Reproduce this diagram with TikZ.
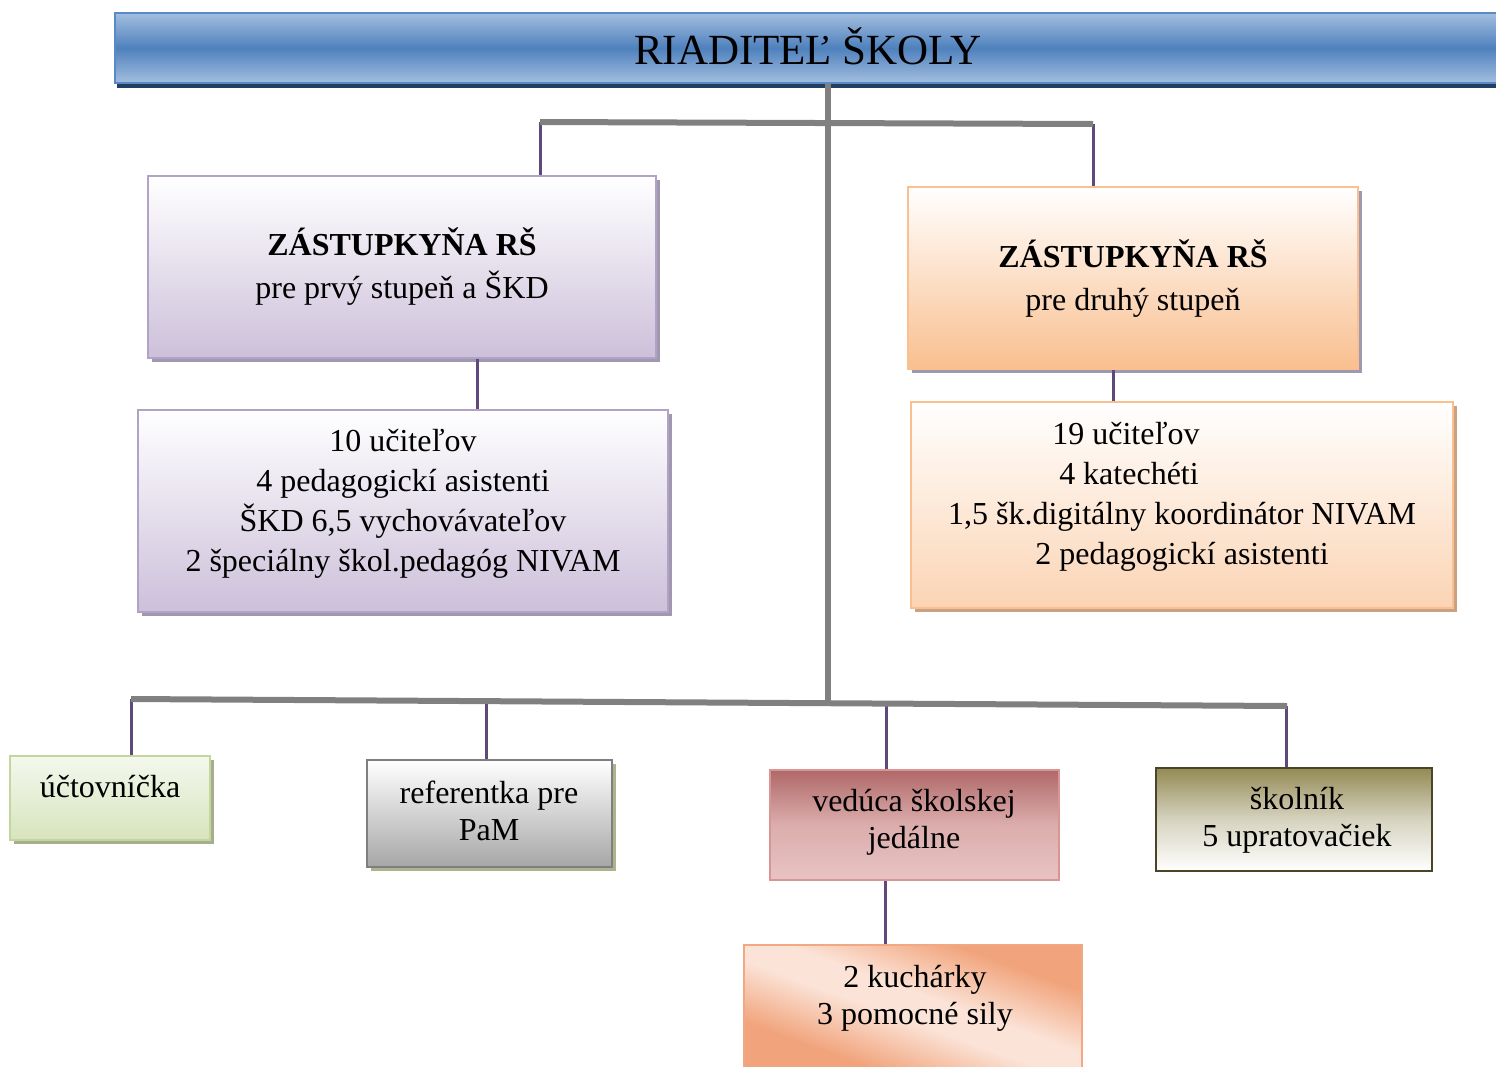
\documentclass[tikz,border=0pt]{standalone}
\usepackage{fontspec}
\setmainfont{Liberation Serif}
\usetikzlibrary{shadows,calc}
\definecolor{tbord}{HTML}{5A8AC6}
\definecolor{tlight}{HTML}{A3BEDF}
\definecolor{tmid}{HTML}{4F81BD}
\definecolor{tshad}{HTML}{243F60}
\definecolor{lavb}{HTML}{B3A2C7}
\definecolor{lavf}{HTML}{CCC0DA}
\definecolor{lavs}{HTML}{A098AE}
\definecolor{orb}{HTML}{FAC090}
\definecolor{orf}{HTML}{F9BF8F}
\definecolor{orf2}{HTML}{FBD4B4}
\definecolor{ors}{HTML}{C9A183}
\definecolor{grb}{HTML}{C3D69B}
\definecolor{grt}{HTML}{F4F8EE}
\definecolor{grf}{HTML}{D7E4BD}
\definecolor{grs}{HTML}{A6AE8E}
\definecolor{gyb}{HTML}{7F7F7F}
\definecolor{gyf}{HTML}{A6A6A6}
\definecolor{gys}{HTML}{AAB58F}
\definecolor{rob}{HTML}{D99594}
\definecolor{rot}{HTML}{B06868}
\definecolor{rom}{HTML}{DCADAD}
\definecolor{rof}{HTML}{E8C3C3}
\definecolor{olb}{HTML}{4A4528}
\definecolor{olt}{HTML}{948A54}
\definecolor{olm}{HTML}{D6D3C0}
\definecolor{pkb}{HTML}{F2A883}
\definecolor{pk}{HTML}{F1A47C}
\definecolor{pkl}{HTML}{FBE3D7}
\definecolor{conn}{HTML}{808080}
\definecolor{purp}{HTML}{5F497A}
\pgfdeclarehorizontalshading{kuch}{100bp}{color(0bp)=(pk); color(30bp)=(pk); color(46bp)=(pkl); color(54bp)=(pkl); color(70bp)=(pk); color(100bp)=(pk)}
\begin{document}
\begin{tikzpicture}[x=1pt,y=-1pt,
  box/.style={inner sep=0pt, line width=1.5pt},
  txt/.style={align=center, inner sep=0pt, font=\fontsize{32}{40}\selectfont},
  stxt/.style={align=center, inner sep=0pt, font=\fontsize{32}{37}\selectfont},
  gline/.style={draw=conn, line width=6pt},
  pline/.style={draw=purp, line width=3pt},
  shad/.style={drop shadow={shadow xshift=4pt, shadow yshift=-4pt, fill=#1, opacity=1}}
]
\useasboundingbox (0,0) rectangle (1496,1066);

% ---------- boxes ----------
\node[box, draw=tbord, line width=2.5pt, top color=tlight, bottom color=tlight, middle color=tmid,
      minimum width=1383pt, minimum height=70pt,
      drop shadow={shadow xshift=2pt, shadow yshift=-5pt, fill=tshad, opacity=1}] (title) at (806.5,48) {};
\node[inner sep=0pt, anchor=base, font=\fontsize{43}{50}\selectfont] (titlet) at (808,64) {RIADITEĽ ŠKOLY};

\node[box, draw=lavb, top color=white, bottom color=lavf, minimum width=508pt, minimum height=182pt, shad=lavs] (z1) at (402,267) {};
\node[txt] (z1t) at (402,267) {\textbf{ZÁSTUPKYŇA RŠ}\\[3pt]pre prvý stupeň a ŠKD};

\node[box, draw=lavb, top color=white, bottom color=lavf, minimum width=530pt, minimum height=202pt, shad=lavs] (s1) at (403,511) {};
\node[txt] (s1t) at (403,504) {10 učiteľov\\4 pedagogickí asistenti\\ŠKD 6,5 vychovávateľov\\2 špeciálny škol.pedagóg NIVAM};

\node[box, draw=orb, top color=white, bottom color=orf, minimum width=450pt, minimum height=182pt, shad=lavs] (z2) at (1133,278) {};
\node[txt] (z2t) at (1133,279) {\textbf{ZÁSTUPKYŇA RŠ}\\[3pt]pre druhý stupeň};

\node[box, draw=orb, top color=white, bottom color=orf2, minimum width=542pt, minimum height=206pt, shad=ors] (s2) at (1182,505) {};
\node[txt] (s2t) at (1182,497) {\mbox{19 učiteľov\hspace{112pt}}\\\mbox{4 katechéti\hspace{106pt}}\\1,5 šk.digitálny koordinátor NIVAM\\2 pedagogickí asistenti};

\node[box, draw=grb, top color=grt, bottom color=grf, minimum width=200pt, minimum height=84pt, shad=grs] (u) at (110,798) {};
\node[inner sep=0pt, anchor=base, font=\fontsize{32}{40}\selectfont] (ut) at (110,797) {účtovníčka};

\node[box, draw=gyb, top color=white, bottom color=gyf, minimum width=245pt, minimum height=107pt, shad=gys] (r) at (489.5,813.5) {};
\node[stxt] (rt) at (489,811) {referentka pre\\PaM};

\node[box, draw=rob, top color=rot, bottom color=rof, middle color=rom, minimum width=289pt, minimum height=110pt] (v) at (914.5,825) {};
\node[stxt] (vt) at (914,822) {vedúca školskej\\jedálne};

\node[box, draw=olb, top color=olt, bottom color=white, middle color=olm, minimum width=276pt, minimum height=103pt] (sk) at (1294,819.5) {};
\node[stxt] (skt) at (1297,820) {školník\\5 upratovačiek};

\node[box, draw=pkb, shading=kuch, shading angle=70, minimum width=338pt, minimum height=123pt] (k) at (913,1006.5) {};
\node[stxt] (kt) at (915,998) {2 kuchárky\\3 pomocné sily};

% ---------- connectors ----------
\coordinate (tj) at (828,123);
\coordinate (hl) at (540,122);
\coordinate (hr) at (1093,124);
\coordinate (bj) at (828,703);
\coordinate (bl) at (131,699);
\coordinate (br) at (1287,706);
\coordinate (d2) at (486,701);
\coordinate (d3) at (886,703.5);
\coordinate (d4) at (1286,706);

\draw[pline] (hl) -- (hl |- z1.north);
\draw[pline] (hr) -- (hr |- z2.north);
\draw[pline] (477,0 |- z1.south) -- (477,0 |- s1.north);
\draw[pline] (1113,0 |- z2.south) -- (1113,0 |- s2.north);
\draw[pline] (bl) -- (bl |- u.north);
\draw[pline] (d2) -- (d2 |- r.north);
\draw[pline] (d3) -- (d3 |- v.north);
\draw[pline] (d4) -- (d4 |- sk.north);
\draw[pline] (885,0 |- v.south) -- (885,0 |- k.north);

\draw[gline] (title.south -| tj) -- (bj);
\draw[gline] (hl) -- (hr);
\draw[gline] (bl) -- (br);
\end{tikzpicture}
\end{document}
